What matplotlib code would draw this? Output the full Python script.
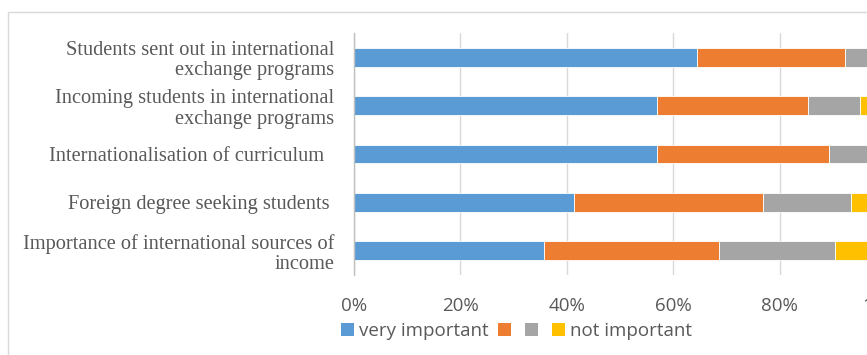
import matplotlib
matplotlib.use("Agg")
import matplotlib.pyplot as plt
from matplotlib.patches import Rectangle, Patch
import numpy as np

categories = [
    "Students sent out in international\nexchange programs",
    "Incoming students in international\nexchange programs",
    "Internationalisation of curriculum  ",
    "Foreign degree seeking students ",
    "Importance of international sources of\nincome",
]
very_important = [64.5, 57.0, 57.0, 41.4, 35.7]
important = [27.7, 28.4, 32.3, 35.4, 33.0]
less_important = [7.8, 9.7, 10.7, 16.6, 21.8]
not_important = [0.0, 4.9, 0.0, 6.6, 9.5]
series_labels = ["very important", "", "", "not important"]
colors = ["#5B9BD5", "#ED7D31", "#A5A5A5", "#FFC000"]
xticks = [0, 20, 40, 60, 80, 100]
xticklabels = ["0%", "20%", "40%", "60%", "80%", "100%"]

W, H = 867, 355
fig = plt.figure(figsize=(W / 100, H / 100), dpi=100)

# chart frame (partly cropped)
fig.patches.append(Rectangle((8 / W, -0.2), 1.2, (H - 12) / H + 0.2,
                             transform=fig.transFigure, fill=False,
                             edgecolor="#d9d9d9", linewidth=1.0))

ax = fig.add_axes([354 / W, 1 - 275 / H, 532 / W, 242 / H])
y = np.arange(len(categories))
left = np.zeros(len(categories))
handles = []
for vals, c in zip([very_important, important, less_important, not_important], colors):
    ax.barh(y, vals, left=left, height=0.39, color=c, edgecolor="white",
            linewidth=0.6, zorder=3)
    left = left + np.array(vals)
    handles.append(Patch(facecolor=c, edgecolor="none"))

ax.set_xlim(0, 100)
ax.set_ylim(len(categories) - 0.5, -0.5)
ax.set_yticks(y)
ax.set_yticklabels(categories, family="Liberation Serif", fontsize=14.7,
                   color="#595959", ha="right", linespacing=1.12)
ax.set_xticks(xticks)
ax.set_xticklabels(xticklabels, family="Open Sans", fontsize=13.5, color="#595959")
ax.tick_params(axis="both", length=0)
ax.tick_params(axis="y", pad=14)
ax.tick_params(axis="x", pad=16)
ax.grid(axis="x", color="#d9d9d9", linewidth=1.0, zorder=0)
for s in ["top", "right", "bottom"]:
    ax.spines[s].set_visible(False)
ax.spines["left"].set_color("#bfbfbf")
ax.spines["left"].set_linewidth(1.0)
ax.spines["left"].set_zorder(4)

fig.legend(handles, series_labels, loc="center", bbox_to_anchor=(516.5 / W, 1 - 331 / H),
           ncol=4, frameon=False, handlelength=0.7, handleheight=0.7,
           handletextpad=0.25, columnspacing=0.5,
           prop={"family": "Open Sans", "size": 13.5}, labelcolor="#595959")

fig.savefig("out.png", dpi=100, facecolor="white")
